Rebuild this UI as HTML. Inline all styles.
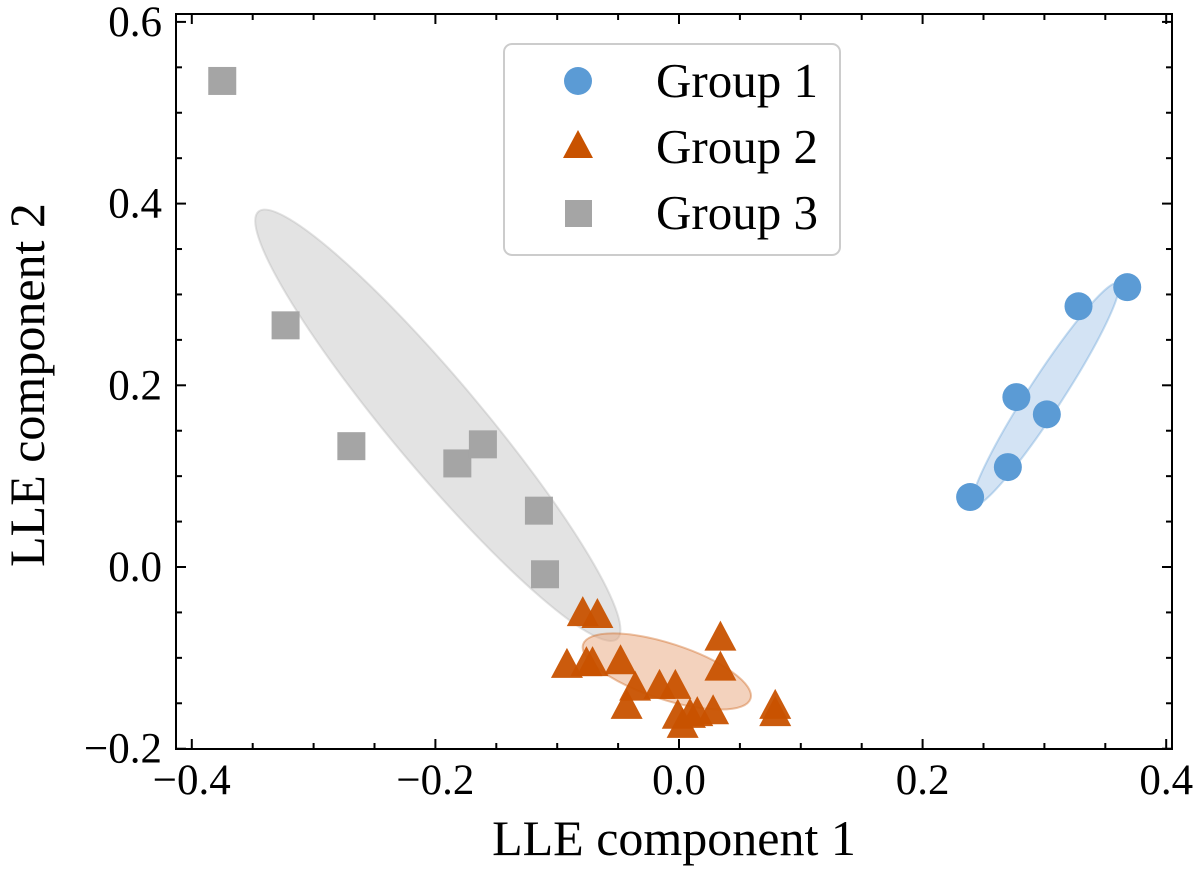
<!DOCTYPE html>
<html><head><meta charset="utf-8"><style>
body{margin:0;background:#fff;}
svg text{font-family:"Liberation Serif",serif;fill:#000;}
</style></head><body>
<svg id="chart" width="1200" height="869" xmlns="http://www.w3.org/2000/svg"></svg>
<script>
const xTicks=[-0.4,-0.2,0.0,0.2,0.4];
const yTicks=[-0.2,0.0,0.2,0.4,0.6];
const g1x=[0.239,0.270,0.277,0.302,0.328,0.368];
const g1y=[0.077,0.110,0.187,0.168,0.287,0.308];
const g2x=[-0.079,-0.067,-0.092,-0.076,-0.071,-0.048,-0.036,-0.043,-0.016,-0.003,0.034,0.034,0.028,-0.001,0.009,0.015,0.003,0.079,0.079];
const g2y=[-0.053,-0.055,-0.110,-0.108,-0.108,-0.106,-0.135,-0.155,-0.133,-0.133,-0.080,-0.113,-0.161,-0.166,-0.165,-0.163,-0.176,-0.155,-0.163];
const g3x=[-0.375,-0.323,-0.269,-0.182,-0.161,-0.115,-0.110];
const g3y=[0.535,0.266,0.133,0.114,0.135,0.062,-0.008];
const L=176,R=1172,T=14,B=749;
const sx=v=>679+v*1218;
const sy=v=>567-v*908.5;
const svg=document.getElementById('chart');
const NS='http://www.w3.org/2000/svg';
function mk(tag,attrs,parent){const e=document.createElementNS(NS,tag);for(const k in attrs)e.setAttribute(k,attrs[k]);(parent||svg).appendChild(e);return e;}
const ells=[
 {cx:-0.198,cy:0.156,rx:279,ry:45,a:50,fill:'#c8c8c8',st:'#b0b0b0',name:'group-3-ellipse'},
 {cx:-0.010,cy:-0.115,rx:88,ry:28,a:18,fill:'#e8a57c',st:'#c85200',name:'group-2-ellipse'},
 {cx:0.301,cy:0.190,rx:132,ry:17,a:-57,fill:'#a8c8ea',st:'#5b9bd5',name:'group-1-ellipse'}];
ells.forEach(o=>{const e=mk('ellipse',{cx:sx(o.cx),cy:sy(o.cy),rx:o.rx,ry:o.ry,transform:`rotate(${o.a} ${sx(o.cx)} ${sy(o.cy)})`,fill:o.fill,'fill-opacity':0.5,stroke:o.st,'stroke-opacity':0.35,'stroke-width':2});

});
g3x.forEach((x,i)=>{const e=mk('rect',{x:sx(x)-14,y:sy(g3y[i])-14,width:28,height:28,fill:'#a5a5a5'});

});
g2x.forEach((x,i)=>{const cx=sx(x),cy=sy(g2y[i]);const e=mk('polygon',{points:`${cx},${cy-19} ${cx-16},${cy+11} ${cx+16},${cy+11}`,fill:'#c85200','fill-opacity':0.95});

});
g1x.forEach((x,i)=>{const e=mk('circle',{cx:sx(x),cy:sy(g1y[i]),r:14,fill:'#5b9bd5'});

});
const fr=mk('rect',{x:L,y:T,width:R-L,height:B-T,fill:'none',stroke:'#000','stroke-width':2});


for(let v=-0.4;v<=0.4001;v+=0.05){const px=sx(v);const major=Math.abs(Math.round(v*10)-v*10)<1e-6&&Math.round(v*10)%2===0;const len=major?10:6;
mk('line',{x1:px,y1:B,x2:px,y2:B-len,stroke:'#000','stroke-width':2});mk('line',{x1:px,y1:T,x2:px,y2:T+len,stroke:'#000','stroke-width':2});}
for(let v=-0.2;v<=0.6001;v+=0.05){const py=sy(v);const major=Math.abs(Math.round(v*10)-v*10)<1e-6&&Math.round(v*10)%2===0;const len=major?10:6;
if(py<T-1||py>B+1)continue;
mk('line',{x1:L,y1:py,x2:L+len,y2:py,stroke:'#000','stroke-width':2});mk('line',{x1:R,y1:py,x2:R-len,y2:py,stroke:'#000','stroke-width':2});}
const fmt=v=>(v<0?'\u2212':'')+Math.abs(v).toFixed(1);
xTicks.forEach(v=>{const t=mk('text',{x:sx(v),y:B+45,'text-anchor':'middle','font-size':43});t.textContent=fmt(v);

});
yTicks.forEach(v=>{const t=mk('text',{x:L-14,y:sy(v)+14,'text-anchor':'end','font-size':43});t.textContent=fmt(v);

});
const xl=mk('text',{x:674,y:855,'text-anchor':'middle','font-size':50});xl.textContent='LLE component 1';


const yl=mk('text',{x:0,y:0,'text-anchor':'middle','font-size':50,transform:'translate(44 385) rotate(-90)'});yl.textContent='LLE component 2';


const lg=mk('g',{});


mk('rect',{x:504,y:44,width:336,height:211,rx:8,fill:'#fff','fill-opacity':0.8,stroke:'#ccc','stroke-width':2},lg);
mk('circle',{cx:578,cy:81,r:14,fill:'#5b9bd5'},lg);
mk('polygon',{points:'578,130 563,158 593,158',fill:'#c85200'},lg);
mk('rect',{x:565,y:200,width:27,height:27,fill:'#a5a5a5'},lg);
['Group 1','Group 2','Group 3'].forEach((s,i)=>{const t=mk('text',{x:656,y:97+i*66,'font-size':49},lg);t.textContent=s;

});
</script>
</body></html>
